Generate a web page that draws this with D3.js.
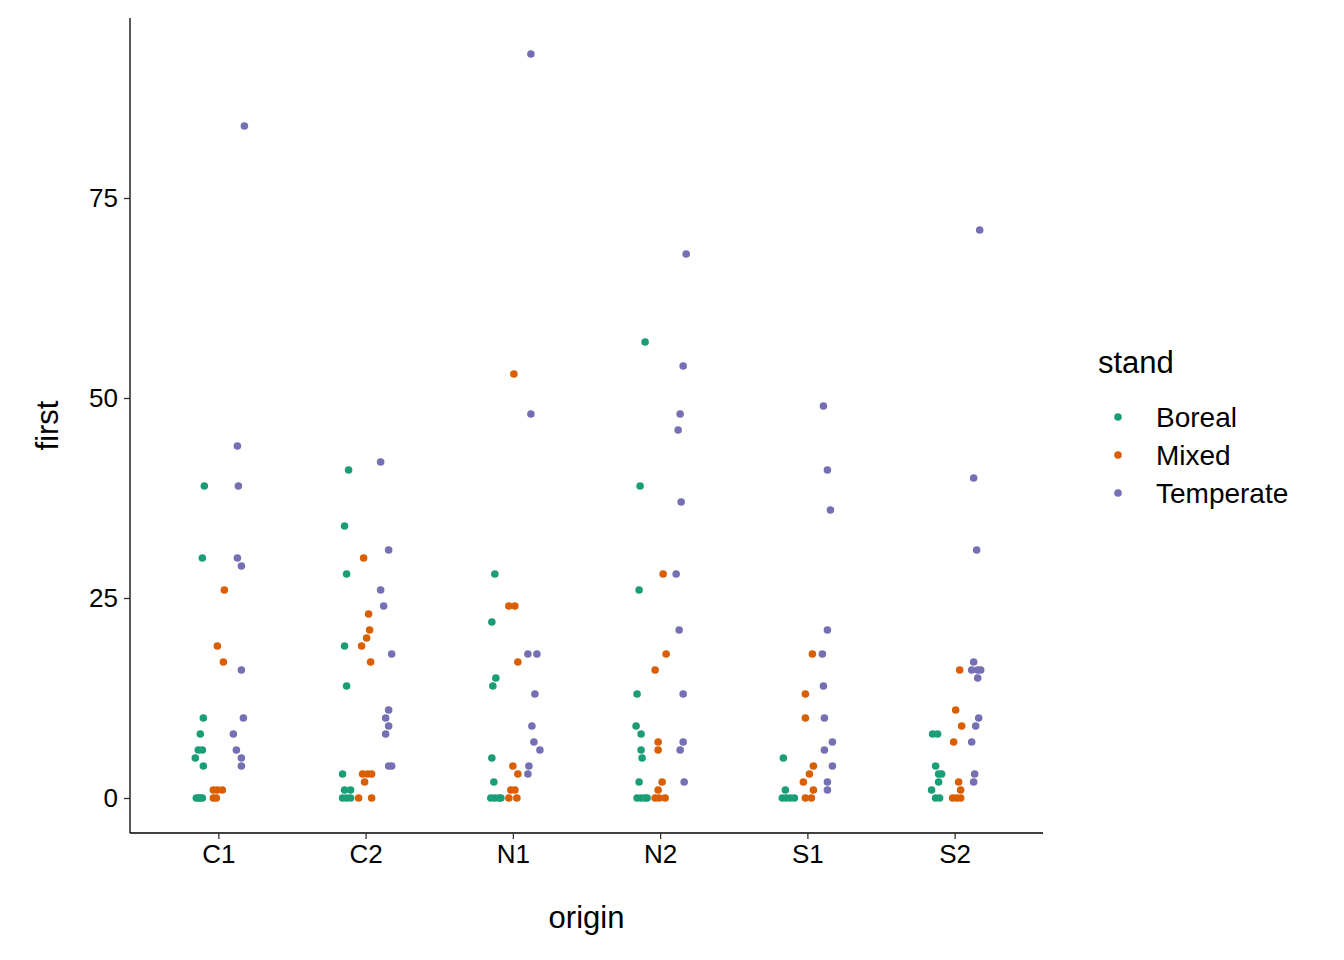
<!DOCTYPE html>
<html>
<head>
<meta charset="utf-8">
<script src="https://cdn.jsdelivr.net/npm/d3@7"></script>
<style>
	body { margin: 0; background: #fff; }
	text { font-family: "Liberation Sans", Arial, sans-serif; }
</style>
</head>
<body>
<svg id="chart" width="1344" height="960"></svg>
<script>
var origins = ["C1", "C2", "N1", "N2", "S1", "S2"];
var stands = ["Boreal", "Mixed", "Temperate"];
var standColors = ["#1B9E77", "#D95F02", "#7570B3"];
var yTicks = [0, 25, 50, 75];

// each point: [origin, first, jitter] ; jitter = offset from the origin centre
var boreal = [
	["C1", 39, -14], ["C1", 30, -16], ["C1", 10, -15], ["C1", 8, -18], ["C1", 6, -20], ["C1", 6, -16],
	["C1", 5, -23], ["C1", 4, -15], ["C1", 0, -22], ["C1", 0, -20], ["C1", 0, -18], ["C1", 0, -16],
	["C2", 41, -17], ["C2", 34, -21], ["C2", 28, -19], ["C2", 19, -21], ["C2", 14, -19], ["C2", 3, -23],
	["C2", 1, -21], ["C2", 1, -15], ["C2", 0, -23], ["C2", 0, -19], ["C2", 0, -15],
	["N1", 28, -18], ["N1", 22, -21], ["N1", 15, -17], ["N1", 14, -20], ["N1", 5, -21], ["N1", 2, -19],
	["N1", 0, -22], ["N1", 0, -18], ["N1", 0, -14], ["N1", 0, -12],
	["N2", 57, -15], ["N2", 39, -20], ["N2", 26, -21], ["N2", 13, -23], ["N2", 9, -24], ["N2", 8, -19],
	["N2", 6, -19], ["N2", 5, -18], ["N2", 2, -21], ["N2", 0, -23], ["N2", 0, -19], ["N2", 0, -15], ["N2", 0, -13],
	["S1", 5, -24], ["S1", 1, -22], ["S1", 0, -25], ["S1", 0, -21], ["S1", 0, -17], ["S1", 0, -13],
	["S2", 8, -22], ["S2", 8, -17], ["S2", 4, -19], ["S2", 3, -16], ["S2", 3, -13], ["S2", 2, -16],
	["S2", 1, -23], ["S2", 0, -19], ["S2", 0, -15]
];
var mixed = [
	["C1", 26, 6], ["C1", 19, -1], ["C1", 17, 5], ["C1", 1, -5], ["C1", 1, -1], ["C1", 1, 4], ["C1", 0, -5], ["C1", 0, -2],
	["C2", 30, -2], ["C2", 23, 3], ["C2", 21, 4], ["C2", 20, 1], ["C2", 19, -4], ["C2", 17, 5], ["C2", 3, -3],
	["C2", 3, 2], ["C2", 3, 6], ["C2", 2, -1], ["C2", 0, -7], ["C2", 0, 6],
	["N1", 53, 1], ["N1", 24, -4], ["N1", 24, 2], ["N1", 17, 5], ["N1", 4, 0], ["N1", 3, 5], ["N1", 1, -2],
	["N1", 1, 2], ["N1", 0, -4], ["N1", 0, 4],
	["N2", 28, 3], ["N2", 18, 6], ["N2", 16, -5], ["N2", 7, -2], ["N2", 6, -2], ["N2", 2, 2], ["N2", 1, -2],
	["N2", 0, -5], ["N2", 0, -1], ["N2", 0, 5],
	["S1", 18, 5], ["S1", 13, -2], ["S1", 10, -2], ["S1", 4, 6], ["S1", 3, 2], ["S1", 2, -4], ["S1", 1, 6],
	["S1", 0, -2], ["S1", 0, 4],
	["S2", 16, 5], ["S2", 11, 1], ["S2", 9, 7], ["S2", 7, -1], ["S2", 2, 4], ["S2", 1, 6], ["S2", 0, -2], ["S2", 0, 2], ["S2", 0, 6]
];
var temperate = [
	["C1", 84, 26], ["C1", 44, 19], ["C1", 39, 20], ["C1", 30, 19], ["C1", 29, 23], ["C1", 16, 23], ["C1", 10, 25],
	["C1", 8, 15], ["C1", 6, 18], ["C1", 5, 23], ["C1", 4, 23],
	["C2", 42, 15], ["C2", 31, 23], ["C2", 26, 15], ["C2", 24, 18], ["C2", 18, 26], ["C2", 11, 23], ["C2", 10, 20],
	["C2", 9, 23], ["C2", 8, 20], ["C2", 4, 23], ["C2", 4, 26],
	["N1", 93, 18], ["N1", 48, 18], ["N1", 18, 15], ["N1", 18, 24], ["N1", 13, 22], ["N1", 9, 19], ["N1", 7, 21],
	["N1", 6, 27], ["N1", 4, 16], ["N1", 3, 15],
	["N2", 68, 26], ["N2", 54, 23], ["N2", 48, 20], ["N2", 46, 18], ["N2", 37, 21], ["N2", 28, 16], ["N2", 21, 19],
	["N2", 13, 23], ["N2", 7, 23], ["N2", 6, 20], ["N2", 2, 24],
	["S1", 49, 16], ["S1", 41, 20], ["S1", 36, 23], ["S1", 21, 20], ["S1", 18, 15], ["S1", 14, 16], ["S1", 10, 17],
	["S1", 7, 25], ["S1", 6, 17], ["S1", 4, 25], ["S1", 2, 20], ["S1", 1, 20],
	["S2", 71, 25], ["S2", 40, 19], ["S2", 31, 22], ["S2", 17, 19], ["S2", 16, 17], ["S2", 16, 23], ["S2", 16, 26],
	["S2", 15, 23], ["S2", 10, 24], ["S2", 9, 21], ["S2", 7, 17], ["S2", 3, 20], ["S2", 2, 19]
];

var seriesByStand = [boreal, mixed, temperate];
var points = [];
seriesByStand.forEach(function (series, i) {
	series.forEach(function (d) {
		points.push({ origin: d[0], stand: stands[i], first: d[1], jitter: d[2] });
	});
});

var svg = d3.select("#chart");
var mLeft = 130, mRight = 1043, mTop = 18, mBottom = 833;

var x = d3.scalePoint().domain(origins).range([mLeft, mRight]).padding(0.6);
// jitter was read in reference pixels, where one origin step is 147 px
var jitterScale = d3.scaleLinear().domain([0, 147]).range([0, x.step()]);
var y = d3.scaleLinear().domain([-4.375, 97.5]).range([mBottom, mTop]);
var color = d3.scaleOrdinal().domain(stands).range(standColors);

var gx = svg.append("g").attr("transform", "translate(0," + mBottom + ")")
	.call(d3.axisBottom(x).tickSize(6).tickPadding(6).tickSizeOuter(0));
var gy = svg.append("g").attr("transform", "translate(" + mLeft + ",0)")
	.call(d3.axisLeft(y).tickValues(yTicks).tickSize(6).tickPadding(6).tickSizeOuter(0));

[gx, gy].forEach(function (g) {
	g.select(".domain").attr("stroke", "#000").attr("stroke-width", 1.3);
	g.selectAll(".tick line").attr("stroke", "#333").attr("stroke-width", 1.3);
	g.selectAll(".tick text").attr("fill", "#000").style("font-size", "26px").style("font-family", "Liberation Sans, Arial, sans-serif");
});
gx.select(".domain").attr("d", "M" + mLeft + ",0H" + mRight);
gy.select(".domain").attr("d", "M0," + mTop + "V" + mBottom);

svg.append("g").selectAll("circle")
	.data(points)
	.enter()
		.append("circle")
			.attr("cx", function (d) { return x(d.origin) + jitterScale(d.jitter); })
			.attr("cy", function (d) { return y(d.first); })
			.attr("r", 3.8)
			.attr("fill", function (d) { return color(d.stand); });

svg.append("text").attr("x", (mLeft + mRight) / 2).attr("y", 928)
	.attr("text-anchor", "middle").style("font-size", "31px").text("origin");
svg.append("text").attr("transform", "translate(58," + (mTop + mBottom) / 2 + ") rotate(-90)")
	.attr("text-anchor", "middle").style("font-size", "31px").text("first");

var legend = svg.append("g");
legend.append("text").attr("x", 1098).attr("y", 373).style("font-size", "31px").text("stand");
var items = legend.selectAll("g.item").data(stands).enter().append("g")
	.attr("transform", function (d, i) { return "translate(0," + (417 + i * 38) + ")"; });
items.append("circle").attr("cx", 1118).attr("cy", 0).attr("r", 3.8)
	.attr("fill", function (d) { return color(d); });
items.append("text").attr("x", 1156).attr("y", 10).style("font-size", "28px").text(function (d) { return d; });
</script>
</body>
</html>
